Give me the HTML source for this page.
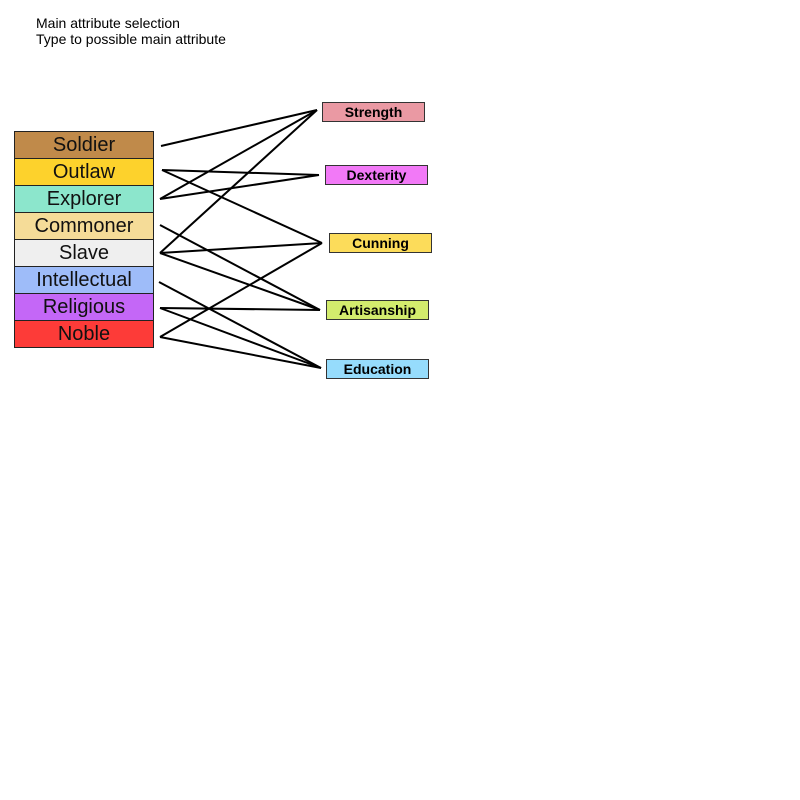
<!DOCTYPE html>
<html><head><style>
body{margin:0;width:800px;height:800px;background:#fff;position:relative;font-family:"Liberation Sans",sans-serif;overflow:hidden}
.t{position:absolute;left:36px;font-size:14px;color:#000}
.l{position:absolute;left:14px;width:138px;height:26px;border:1px solid #222;font-size:20px;text-align:center;line-height:26px;color:#111;box-sizing:content-box}
.r{position:absolute;width:101px;height:18px;border:1px solid #333;font-size:14px;font-weight:bold;text-align:center;line-height:18px;box-sizing:content-box}
svg{position:absolute;left:0;top:0}
</style></head><body>
<div class="t" style="top:15px">Main attribute selection</div>
<div class="t" style="top:31px">Type to possible main attribute</div>
<div class="l" style="top:131px;background:#c08a4a">Soldier</div>
<div class="l" style="top:158px;background:#fdd22c">Outlaw</div>
<div class="l" style="top:185px;background:#8ce6cc">Explorer</div>
<div class="l" style="top:212px;background:#f5dc98">Commoner</div>
<div class="l" style="top:239px;background:#efefef">Slave</div>
<div class="l" style="top:266px;background:#9ebcf9">Intellectual</div>
<div class="l" style="top:293px;background:#c467f7">Religious</div>
<div class="l" style="top:320px;background:#fd3b38">Noble</div>
<div class="r" style="left:322px;top:102px;background:#ea99a3">Strength</div>
<div class="r" style="left:325px;top:165px;background:#f279f7">Dexterity</div>
<div class="r" style="left:329px;top:233px;background:#fcdc5a">Cunning</div>
<div class="r" style="left:326px;top:300px;background:#d3ec6d">Artisanship</div>
<div class="r" style="left:326px;top:359px;background:#96dcfc">Education</div>
<svg width="800" height="800" stroke="#000" stroke-width="2" fill="none">
<line x1="161" y1="146" x2="317" y2="110"/>
<line x1="162" y1="170" x2="319" y2="175"/>
<line x1="162" y1="170" x2="322" y2="243"/>
<line x1="160" y1="199" x2="317" y2="110"/>
<line x1="160" y1="199" x2="319" y2="175"/>
<line x1="160" y1="225" x2="320" y2="310"/>
<line x1="160" y1="253" x2="317" y2="110"/>
<line x1="160" y1="253" x2="322" y2="243"/>
<line x1="160" y1="253" x2="320" y2="310"/>
<line x1="159" y1="282" x2="321" y2="368"/>
<line x1="160" y1="308" x2="320" y2="310"/>
<line x1="160" y1="308" x2="321" y2="368"/>
<line x1="160" y1="337" x2="322" y2="243"/>
<line x1="160" y1="337" x2="321" y2="368"/>
</svg>
</body></html>
